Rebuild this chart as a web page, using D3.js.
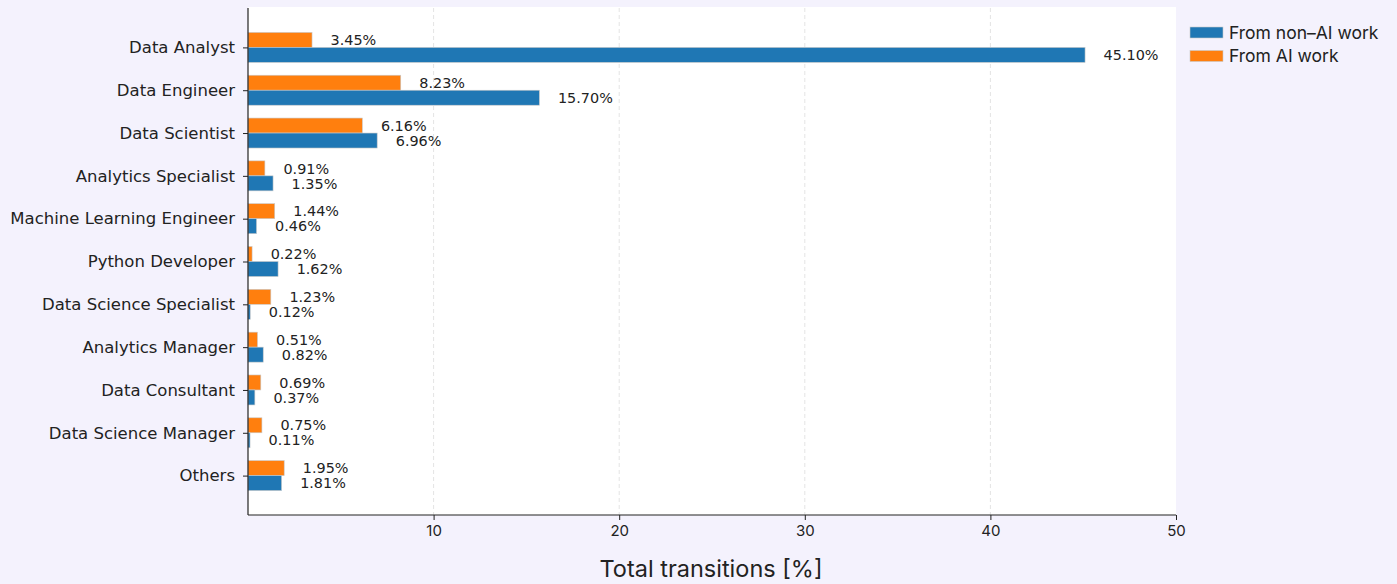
<!DOCTYPE html>
<html>
<head>
<meta charset="utf-8">
<script src="https://cdn.jsdelivr.net/npm/d3@7"></script>
<style>
  html, body { margin: 0; padding: 0; background: #f4f2fd; }
  svg { display: block; }
</style>
</head>
<body>
<svg id="chart" width="1397" height="584"></svg>
<script>
// Job roles people moved into, top to bottom
const roles = [
  "Data Analyst", "Data Engineer", "Data Scientist", "Analytics Specialist",
  "Machine Learning Engineer", "Python Developer", "Data Science Specialist",
  "Analytics Manager", "Data Consultant", "Data Science Manager", "Others"
];
// Share of transitions [%]
const fromNonAI = [45.10, 15.70, 6.96, 1.35, 0.46, 1.62, 0.12, 0.82, 0.37, 0.11, 1.81];
const fromAI    = [3.45, 8.23, 6.16, 0.91, 1.44, 0.22, 1.23, 0.51, 0.69, 0.75, 1.95];
const xTicks = [10, 20, 30, 40, 50];
const seriesNames = ["From non\u2013AI work", "From AI work"];
const seriesColors = ["#1f77b4", "#ff7f0e"];

const svg = d3.select("#chart");
const plot = { left: 248, right: 1176, top: 8, bottom: 515 };

const x = d3.scaleLinear().domain([0, 50]).range([plot.left, plot.right]);
const y = d3.scalePoint().domain(roles).range([plot.top, plot.bottom]).padding(0.92);
const barH = y.step() * 0.35;

// plot background
svg.append("rect")
  .attr("x", plot.left).attr("y", plot.top - 1)
  .attr("width", plot.right - plot.left).attr("height", plot.bottom - plot.top + 1)
  .attr("fill", "#ffffff");

// vertical dashed grid
svg.append("g").selectAll("line")
  .data(xTicks.filter(t => t < 50))
  .join("line")
  .attr("x1", d => x(d)).attr("x2", d => x(d))
  .attr("y1", plot.top).attr("y2", plot.bottom)
  .attr("stroke", "#e4e4e4").attr("stroke-width", 1)
  .attr("stroke-dasharray", "4,3");

const rows = roles.map((r, i) => ({ role: r, ai: fromAI[i], nonai: fromNonAI[i] }));

// orange bars (above the tick) and blue bars (below)
const bars = svg.append("g");
bars.selectAll("rect.ai").data(rows).join("rect")
  .attr("class", "ai")
  .attr("x", x(0)).attr("y", d => y(d.role) - barH)
  .attr("width", d => x(d.ai) - x(0)).attr("height", barH)
  .attr("fill", seriesColors[1]).attr("stroke", "#c9c9c9").attr("stroke-width", 0.6);
bars.selectAll("rect.nonai").data(rows).join("rect")
  .attr("class", "nonai")
  .attr("x", x(0)).attr("y", d => y(d.role))
  .attr("width", d => x(d.nonai) - x(0)).attr("height", barH)
  .attr("fill", seriesColors[0]).attr("stroke", "#c9c9c9").attr("stroke-width", 0.6);

// value labels
const fmt = v => v.toFixed(2) + "%";
const labels = svg.append("g")
  .attr("font-family", "DejaVu Sans, sans-serif").attr("font-size", 14.4)
  .attr("fill", "#222");
labels.selectAll("text.ai").data(rows).join("text")
  .attr("class", "ai")
  .attr("x", d => x(d.ai + 1)).attr("y", d => y(d.role) - barH / 2)
  .attr("dy", "0.36em").text(d => fmt(d.ai));
labels.selectAll("text.nonai").data(rows).join("text")
  .attr("class", "nonai")
  .attr("x", d => x(d.nonai + 1)).attr("y", d => y(d.role) + barH / 2)
  .attr("dy", "0.36em").text(d => fmt(d.nonai));

// y axis
const yAxis = svg.append("g")
  .attr("transform", `translate(${plot.left},0)`)
  .call(d3.axisLeft(y).tickSize(5).tickPadding(8));
yAxis.select(".domain").attr("d", `M0,${plot.top}V${plot.bottom}`).attr("stroke", "#222").attr("stroke-width", 1.2);
yAxis.selectAll(".tick line").attr("stroke", "#222");
yAxis.selectAll("text").attr("font-family", "DejaVu Sans, sans-serif").attr("font-size", 16.5).attr("fill", "#222");

// x axis
const xAxis = svg.append("g")
  .attr("transform", `translate(0,${plot.bottom})`)
  .call(d3.axisBottom(x).tickValues(xTicks).tickSize(5).tickPadding(5));
xAxis.select(".domain").attr("d", `M${plot.left},0H${plot.right}`).attr("stroke", "#222").attr("stroke-width", 1.2);
xAxis.selectAll(".tick line").attr("stroke", "#222");
xAxis.selectAll("text").attr("font-family", "Inter, sans-serif").attr("font-size", 15).attr("fill", "#222");

// axis title
svg.append("text")
  .attr("x", 711).attr("y", 577)
  .attr("text-anchor", "middle")
  .attr("font-family", "Inter, sans-serif").attr("font-size", 23.5)
  .attr("fill", "#222")
  .text("Total transitions [%]");

// legend
const legend = svg.append("g").attr("transform", "translate(1190,27)");
seriesNames.forEach((name, i) => {
  const g = legend.append("g").attr("transform", `translate(0,${i * 23.5})`);
  g.append("rect").attr("width", 33).attr("height", 11)
    .attr("fill", seriesColors[i]).attr("stroke", "#c9c9c9").attr("stroke-width", 0.6);
  g.append("text").attr("x", 39).attr("y", 5.5).attr("dy", "0.36em")
    .attr("font-family", "Inter, sans-serif").attr("font-size", 17.5).attr("fill", "#222")
    .text(name);
});
</script>
</body>
</html>
